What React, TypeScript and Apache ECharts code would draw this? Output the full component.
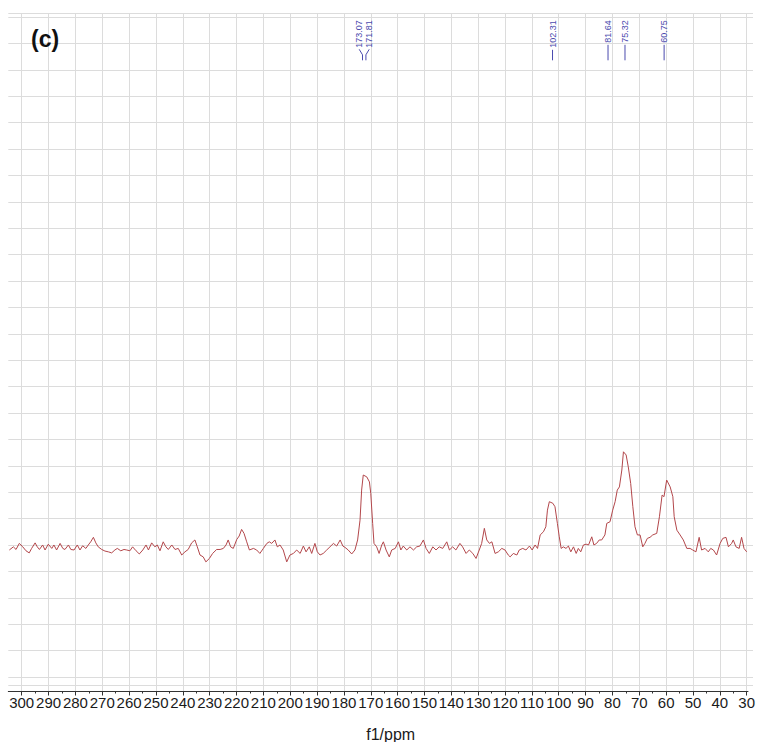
import React, { useEffect, useRef } from 'react';
import * as echarts from 'echarts';

// 13C spectrum (chemical shift in ppm, intensity in grid units: 10 = one grid cell)
const ppmValues = [
  304.6, 303.1, 302.1, 300.9, 299.6, 298.4, 297.2, 296.3, 295.0, 294.2, 293.4, 292.2, 291.3, 290.1, 288.8, 288.0,
  287.0, 285.7, 284.7, 283.9, 282.6, 281.7, 280.5, 279.3, 278.3, 277.3, 276.1, 275.2, 274.3, 273.3, 272.4, 271.5,
  270.2, 269.0, 267.7, 266.5, 265.3, 264.4, 263.1, 261.9, 260.9, 259.7, 258.7, 257.4, 256.2, 254.9, 253.7, 252.8,
  251.6, 250.4, 249.5, 248.5, 247.3, 246.3, 245.4, 244.1, 242.9, 241.7, 240.4, 239.2, 238.0, 236.7, 235.5, 234.6,
  233.6, 232.4, 231.4, 230.1, 228.9, 227.4, 226.1, 224.9, 223.9, 223.1, 222.2, 221.2, 219.9, 219.0, 218.1, 217.2,
  216.2, 215.2, 213.7, 212.5, 211.3, 210.0, 208.7, 207.8, 206.9, 205.7, 204.8, 203.8, 202.6, 201.3, 200.1, 198.8,
  197.6, 196.3, 195.1, 194.1, 192.9, 192.0, 190.8, 189.9, 188.9, 187.7, 186.4, 185.2, 183.9, 182.7, 181.4, 180.4,
  179.6, 178.4, 177.1, 175.9, 174.9, 174.0, 173.4, 172.8, 171.5, 170.5, 170.0, 169.3, 168.8, 167.8, 166.9, 165.9,
  165.3, 164.3, 163.1, 162.2, 160.9, 159.7, 158.8, 157.9, 156.6, 155.4, 154.1, 152.9, 151.7, 150.4, 149.4, 148.2,
  146.9, 145.7, 144.5, 143.2, 141.7, 140.7, 139.5, 138.3, 136.8, 135.8, 134.5, 133.3, 132.0, 130.8, 129.6, 128.7,
  127.7, 126.8, 125.8, 124.9, 123.7, 122.5, 121.2, 120.0, 118.8, 118.1, 116.9, 115.6, 114.7, 113.4, 112.2, 110.9,
  109.9, 108.8, 107.9, 106.9, 105.7, 104.8, 104.2, 103.5, 102.2, 101.4, 100.5, 99.8, 99.1, 98.3, 97.3, 96.4,
  95.5, 94.5, 93.5, 92.7, 91.8, 90.8, 89.8, 88.9, 87.7, 86.9, 85.9, 84.9, 84.0, 82.8, 82.1, 80.9,
  79.9, 79.0, 78.2, 77.4, 76.5, 75.9, 74.9, 74.1, 73.2, 72.4, 71.6, 70.7, 69.7, 68.7, 67.9, 67.0,
  66.0, 65.0, 63.5, 62.5, 61.5, 60.8, 59.8, 58.5, 57.5, 57.0, 56.0, 54.8, 53.6, 52.3, 51.1, 50.1,
  48.9, 47.7, 46.8, 45.5, 44.3, 43.4, 42.4, 41.2, 39.9, 38.9, 37.7, 36.8, 35.6, 35.0, 34.0, 32.8,
  31.9, 31.0, 30.0,
];
const intensityValues = [
  -1.9, -0.7, -1.7, 0.6, -0.7, -2.2, -3.0, -1.3, 0.8, -0.7, -1.7, 0.0, -1.9, 0.3, -1.3, 0.0,
  -1.9, 0.6, -1.3, -1.7, 0.0, -1.7, -1.9, 0.0, -1.9, -0.3, -1.3, 0.0, 1.2, 2.9, 0.8, -0.7,
  -1.7, -2.3, -2.6, -3.0, -1.9, -1.3, -2.2, -1.7, -1.9, -2.2, -0.7, -2.2, -3.4, -1.9, 0.0, -1.9,
  0.8, -0.7, 0.0, -2.2, 1.2, -0.7, -1.7, 0.0, -1.7, -1.3, -3.8, -2.6, -1.7, 0.8, 1.9, -0.7,
  -3.8, -4.5, -6.4, -5.1, -3.2, -1.7, -1.7, -1.3, 0.0, 1.9, -0.7, -1.3, 2.1, 3.4, 5.9, 4.4,
  1.2, -1.9, -1.3, -1.9, -3.2, -1.3, 0.6, 1.2, 0.6, 1.9, -0.7, 0.0, -1.9, -6.4, -3.8, -3.2,
  -1.9, -3.2, -0.4, -2.6, -0.7, -3.2, 0.6, -2.6, -3.8, -3.2, -1.9, -0.7, 0.6, -0.4, 1.9, -0.4,
  -0.9, -1.9, -3.4, -1.9, 1.9, 9.4, 20.8, 26.5, 25.8, 23.9, 19.5, 8.2, 0.6, -0.7, -3.2, 0.0,
  1.2, -1.9, -4.5, -1.9, -1.3, 1.2, -1.9, -0.4, -1.9, -0.7, -1.9, -0.7, -0.4, 1.9, -1.3, -3.2,
  -0.7, -1.9, -0.7, -1.3, 1.2, -1.9, -0.7, -1.9, 0.6, -0.7, -3.2, -1.9, -3.2, -5.1, -1.9, 0.6,
  6.3, 1.9, 0.6, 1.2, -3.2, -2.6, -1.3, -1.9, -3.8, -4.5, -3.2, -3.8, -1.9, -1.3, -1.9, -0.4,
  -1.9, 0.0, -1.3, 3.8, 5.0, 6.9, 13.2, 16.4, 15.8, 14.5, 8.2, 3.1, -1.3, -0.7, -1.3, -0.4,
  -2.6, -0.7, -3.2, -1.3, -2.6, 0.0, 0.3, 0.0, 3.1, 0.0, 0.6, 1.9, 1.9, 3.8, 8.2, 8.8,
  13.2, 16.4, 20.8, 22.0, 28.4, 35.3, 34.1, 29.6, 23.3, 14.5, 6.9, 3.8, 3.8, -0.7, 0.6, 2.5,
  2.9, 3.8, 4.4, 10.7, 18.9, 18.3, 24.6, 22.0, 18.3, 10.7, 5.6, 3.8, 1.9, -1.3, -1.3, -1.9,
  -2.6, 2.9, -1.9, -1.3, -2.6, -1.3, -1.9, -3.8, 0.6, 2.5, 2.9, -0.7, 0.6, 1.9, -0.7, -1.3,
  2.9, -1.3, -2.6,
];

const majorTicks = [300, 290, 280, 270, 260, 250, 240, 230, 220, 210, 200, 190, 180, 170, 160, 150, 140, 130, 120, 110, 100, 90, 80, 70, 60, 50, 40, 30];
const minorTicks = [295, 285, 275, 265, 255, 245, 235, 225, 215, 205, 195, 185, 175, 165, 155, 145, 135, 125, 115, 105, 95, 85, 75, 65, 55, 45, 35];
const gridLineValues = [-53.1, -50, -40, -30, -20, -10, 0, 10, 20, 30, 40, 50, 60, 70, 80, 90, 100, 110, 120, 130, 140, 150, 160, 170, 180, 190, 200, 201.4];
const peakLabels = [173.07, 171.81, 102.31, 81.64, 75.32, 60.75];

const X_MIN = 27.65;
const X_MAX = 304.99;
const Y_MIN = -55.5;
const Y_MAX = 201.4;

const FONT = '"Liberation Sans", Arial, Helvetica, sans-serif';
const LABEL_COLOR = '#4a4aae';
const LABEL_FONT_SIZE = 9;

let measureCtx: CanvasRenderingContext2D | null = null;
function textWidth(t: string): number {
  if (!measureCtx) {
    measureCtx = document.createElement('canvas').getContext('2d');
  }
  if (!measureCtx) return t.length * LABEL_FONT_SIZE * 0.55;
  measureCtx.font = `${LABEL_FONT_SIZE}px ${FONT}`;
  return measureCtx.measureText(t).width;
}

function spread(xs: number[], minGap: number): number[] {
  const out = xs.slice();
  for (let i = 0; i < out.length - 1; i++) {
    const d = Math.abs(out[i + 1] - out[i]);
    if (d < minGap) {
      const mid = (out[i] + out[i + 1]) / 2;
      const dir = out[i + 1] >= out[i] ? 1 : -1;
      out[i] = mid - (dir * minGap) / 2;
      out[i + 1] = mid + (dir * minGap) / 2;
    }
  }
  return out;
}

export default function App() {
  const ref = useRef<HTMLDivElement>(null);

  useEffect(() => {
    if (!ref.current) return;
    const chart = echarts.init(ref.current, undefined, { renderer: 'svg' });
    const data = ppmValues.map((p, i) => [p, intensityValues[i]]);

    const option: any = {
      animation: false,
      backgroundColor: '#ffffff',
      title: {
        text: '(c)',
        left: 26,
        top: 22,
        textStyle: { fontSize: 23, fontWeight: 'bold', color: '#111', fontFamily: FONT },
      },
      grid: [
        { left: 8.3, right: 4, top: 13.3, bottom: 50.5, containLabel: false, outerBoundsMode: 'none' },
        { left: 8.3, right: 9, top: 13.3, bottom: 50.5, containLabel: false, outerBoundsMode: 'none' },
      ],
      xAxis: [
        {
          gridIndex: 0,
          type: 'value',
          inverse: true,
          min: X_MIN,
          max: X_MAX,
          position: 'bottom',
          axisLine: { show: false, onZero: false },
          axisTick: { show: true, customValues: majorTicks, length: 4, lineStyle: { color: '#333', width: 1 } },
          axisLabel: { show: true, customValues: majorTicks, fontSize: 15, color: '#1a1a1a', margin: 3, fontFamily: FONT, hideOverlap: false },
          splitLine: { show: true, lineStyle: { color: '#dcdcdc', width: 1 } },
          name: 'f1/ppm',
          nameLocation: 'middle',
          nameGap: 35,
          nameTextStyle: { fontSize: 16, color: '#1a1a1a', fontFamily: FONT, padding: [0, 0, 0, 20] },
        },
        {
          gridIndex: 0,
          type: 'value',
          inverse: true,
          min: X_MIN,
          max: X_MAX,
          position: 'bottom',
          axisLine: { show: false, onZero: false },
          axisTick: { show: true, customValues: minorTicks, length: 2, lineStyle: { color: '#333', width: 1 } },
          axisLabel: { show: false },
          splitLine: { show: false },
        },
        {
          gridIndex: 1,
          type: 'value',
          min: 0,
          max: 1,
          position: 'bottom',
          axisLine: { show: true, onZero: false, lineStyle: { color: '#333', width: 1 } },
          axisTick: { show: false },
          axisLabel: { show: false },
          splitLine: { show: false },
        },
      ],
      yAxis: [
        {
          gridIndex: 0,
          type: 'value',
          min: Y_MIN,
          max: Y_MAX,
          axisLine: { show: false },
          axisTick: { show: false, customValues: gridLineValues },
          axisLabel: { show: false },
          splitLine: { show: true, lineStyle: { color: '#dcdcdc', width: 1 } },
        },
        { gridIndex: 1, type: 'value', min: 0, max: 1, show: false, splitLine: { show: false } },
      ],
      series: [
        {
          type: 'line',
          xAxisIndex: 0,
          yAxisIndex: 0,
          data,
          showSymbol: false,
          symbol: 'none',
          lineStyle: { color: '#b3474b', width: 1 },
          z: 5,
        },
        {
          type: 'custom',
          coordinateSystem: 'cartesian2d',
          xAxisIndex: 0,
          yAxisIndex: 0,
          clip: false,
          data: peakLabels.map((p) => [p, Y_MAX]),
          encode: { x: 0, y: 1 },
          z: 6,
          renderItem: (params: any, api: any) => {
            const xs = peakLabels.map((p) => api.coord([p, Y_MAX])[0]);
            const disp = spread(xs, 10);
            const i = params.dataIndex;
            const x = xs[i];
            const lx = disp[i];
            const top = params.coordSys.y;
            const label = peakLabels[i].toFixed(2);
            const textTop = top + 7;
            const textBottom = textTop + textWidth(label);
            const lineEnd = top + 47;
            const children: any[] = [
              {
                type: 'text',
                x: lx,
                y: textTop,
                rotation: Math.PI / 2,
                style: {
                  text: label,
                  fill: LABEL_COLOR,
                  font: `${LABEL_FONT_SIZE}px ${FONT}`,
                  align: 'right',
                  verticalAlign: 'middle',
                },
              },
            ];
            if (Math.abs(lx - x) > 0.5) {
              children.push({
                type: 'polyline',
                shape: { points: [[lx, textBottom + 1.5], [x, textBottom + 7], [x, lineEnd]] },
                style: { stroke: LABEL_COLOR, lineWidth: 1, fill: 'none' },
              });
            } else {
              children.push({
                type: 'line',
                shape: { x1: x, y1: textBottom + 2, x2: x, y2: lineEnd },
                style: { stroke: LABEL_COLOR, lineWidth: 1 },
              });
            }
            return { type: 'group', children };
          },
        },
      ],
    };

    chart.setOption(option);
    return () => {
      chart.dispose();
    };
  }, []);

  return (
    <div
      ref={ref}
      style={{ position: 'absolute', left: 0, top: 0, width: 757, height: 742, background: '#fff' }}
    />
  );
}
